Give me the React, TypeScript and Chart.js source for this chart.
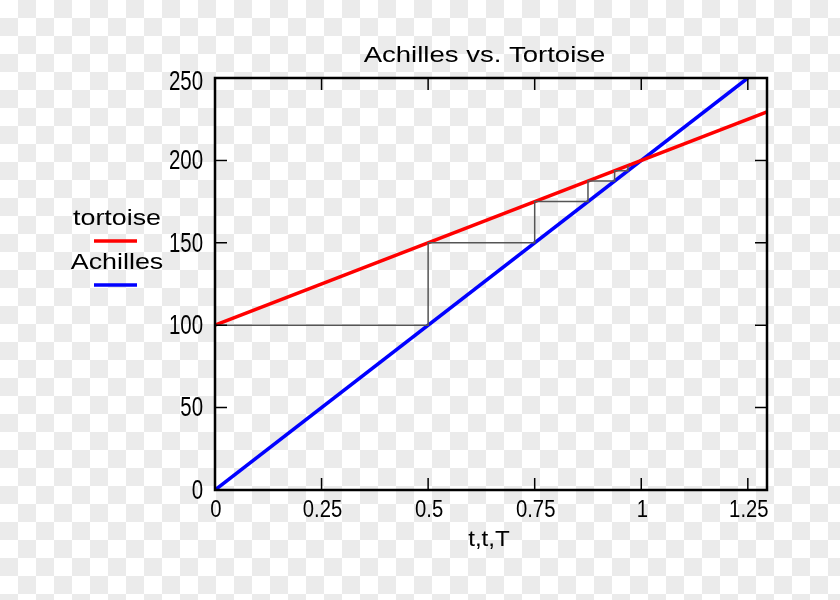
import React, { useEffect, useRef } from "react";
import { Chart, registerables } from "chart.js";

Chart.register(...registerables);

const tortoiseT = [0, 1.3];
const tortoiseD = [100, 230];
const achillesT = [0, 1.25];
const achillesD = [0, 250];
const stairT = [0, 0.5, 0.5, 0.75, 0.75, 0.875, 0.875, 0.9375, 0.9375, 0.96875, 0.96875];
const stairD = [100, 100, 150, 150, 175, 175, 187.5, 187.5, 193.75, 193.75, 196.875];
const xTicks = [0, 0.25, 0.5, 0.75, 1, 1.25];
const yTicks = [0, 50, 100, 150, 200, 250];
const xLabels = ["0", "0.25", "0.5", "0.75", "1", "1.25"];
const yLabels = ["0", "50", "100", "150", "200", "250"];
const titleText = "Achilles vs. Tortoise";
const xTitle = "t,t,T";
const legendNames = ["tortoise", "Achilles"];
const legendColors = ["#ff0000", "#0000ff"];

function pts(xs: number[], ys: number[]) {
  return xs.map((x, i) => ({ x, y: ys[i] }));
}

function stretchText(
  ctx: CanvasRenderingContext2D,
  text: string,
  cx: number,
  cy: number,
  font: string,
  sx: number,
  align: CanvasTextAlign = "center"
) {
  ctx.save();
  ctx.font = font;
  ctx.textAlign = align;
  ctx.textBaseline = "middle";
  ctx.fillStyle = "#000";
  ctx.translate(cx, cy);
  ctx.scale(sx, 1);
  ctx.fillText(text, 0, 0);
  ctx.restore();
}

const framePlugin = {
  id: "frameTicks",
  afterDatasetsDraw(chart: any) {
    const ctx = chart.ctx as CanvasRenderingContext2D;
    const a = chart.chartArea;
    const xs = chart.scales.x;
    const ys = chart.scales.y;
    ctx.save();
    ctx.strokeStyle = "#000";
    ctx.lineWidth = 1.5;
    const tl = 12;
    xTicks.forEach((v) => {
      const px = xs.getPixelForValue(v);
      if (px <= a.left + 1 || px >= a.right - 1) return;
      ctx.beginPath();
      ctx.moveTo(px, a.bottom);
      ctx.lineTo(px, a.bottom - tl);
      ctx.moveTo(px, a.top);
      ctx.lineTo(px, a.top + tl);
      ctx.stroke();
    });
    yTicks.forEach((v) => {
      const py = ys.getPixelForValue(v);
      if (py <= a.top + 1 || py >= a.bottom - 1) return;
      ctx.beginPath();
      ctx.moveTo(a.left, py);
      ctx.lineTo(a.left + tl, py);
      ctx.moveTo(a.right, py);
      ctx.lineTo(a.right - tl, py);
      ctx.stroke();
    });
    ctx.lineWidth = 2.5;
    ctx.strokeRect(a.left, a.top, a.right - a.left, a.bottom - a.top);
    ctx.restore();

    // tick labels
    xTicks.forEach((v, i) => {
      stretchText(ctx, xLabels[i], xs.getPixelForValue(v) + 1, a.bottom + 21, "23px 'Liberation Sans'", 0.88);
    });
    yTicks.forEach((v, i) => {
      const py = Math.max(ys.getPixelForValue(v) + 1, a.top + 4);
      stretchText(ctx, yLabels[i], a.left - 12, py, "28px 'Liberation Sans'", 0.73, "right");
    });

    stretchText(ctx, titleText, 484.5, 56, "21.5px 'Liberation Sans'", 1.28);
    stretchText(ctx, xTitle, 489, 540, "22px 'Liberation Sans'", 1.1);
    legendNames.forEach((n, i) => {
      const y0 = 219 + i * 44;
      stretchText(ctx, n, 117, y0, "22px 'Liberation Sans'", 1.22);
      ctx.save();
      ctx.strokeStyle = legendColors[i];
      ctx.lineWidth = 3.5;
      ctx.beginPath();
      ctx.moveTo(94, y0 + 22);
      ctx.lineTo(137, y0 + 22);
      ctx.stroke();
      ctx.restore();
    });
  },
};

export default function App() {
  const ref = useRef<HTMLCanvasElement>(null);
  useEffect(() => {
    const chart = new Chart(ref.current!, {
      type: "scatter",
      data: {
        datasets: [
          {
            label: "steps",
            data: pts(stairT, stairD),
            showLine: true,
            borderColor: "#555555",
            borderWidth: 1.5,
            pointRadius: 0,
            tension: 0,
          },
          {
            label: legendNames[0],
            data: pts(tortoiseT, tortoiseD),
            showLine: true,
            borderColor: legendColors[0],
            borderWidth: 3.5,
            pointRadius: 0,
          },
          {
            label: legendNames[1],
            data: pts(achillesT, achillesD),
            showLine: true,
            borderColor: legendColors[1],
            borderWidth: 3.5,
            pointRadius: 0,
          },
        ],
      },
      options: {
        animation: false,
        responsive: false,
        layout: { padding: { left: 0, top: 78, right: 73, bottom: 0 } },
        plugins: { legend: { display: false }, tooltip: { enabled: false }, title: { display: false } },
        scales: {
          x: {
            type: "linear",
            min: 0,
            max: 1.295,
            grid: { display: false },
            border: { display: false },
            ticks: { display: false },
            afterFit: (s: any) => {
              s.height = 110;
            },
          },
          y: {
            type: "linear",
            min: 0,
            max: 250,
            grid: { display: false },
            border: { display: false },
            ticks: { display: false },
            afterFit: (s: any) => {
              s.width = 215;
            },
          },
        },
      },
      plugins: [framePlugin],
    });
    return () => chart.destroy();
  }, []);
  return (
    <div
      style={{
        position: "absolute",
        left: 0,
        top: 0,
        width: 840,
        height: 600,
        background: "repeating-conic-gradient(#ebebeb 0% 25%, #ffffff 0% 50%) 0 0 / 36px 36px",
      }}
    >
      <canvas ref={ref} width={840} height={600} />
    </div>
  );
}
